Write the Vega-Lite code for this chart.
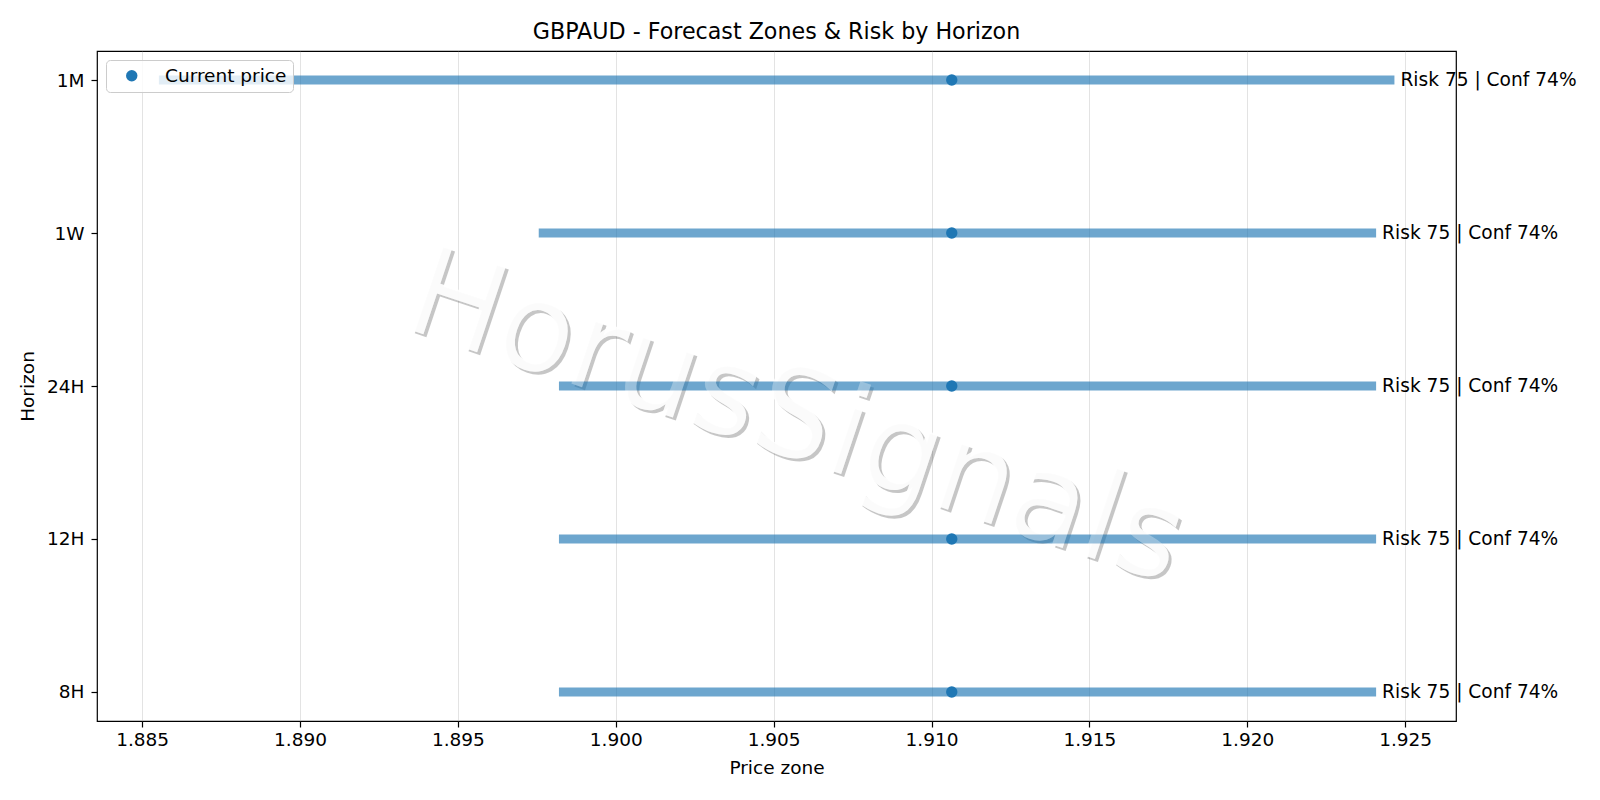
{
  "$schema": "https://vega.github.io/schema/vega-lite/v6.json",
  "width": 1359,
  "height": 670,
  "autosize": {"type": "none"},
  "padding": {"left": 97, "top": 51, "right": 144, "bottom": 79},
  "background": "white",
  "title": {
    "text": "GBPAUD - Forecast Zones & Risk by Horizon",
    "fontSize": 22.2,
    "fontWeight": "normal",
    "font": "DejaVu Sans",
    "color": "#000000",
    "offset": 8
  },
  "config": {
    "view": {"stroke": "#000000", "strokeWidth": 1.2},
    "axis": {
      "labelFont": "DejaVu Sans",
      "labelFontSize": 18.5,
      "labelColor": "#000000",
      "titleFont": "DejaVu Sans",
      "titleFontSize": 18.5,
      "titleFontWeight": "normal",
      "titleColor": "#000000",
      "tickColor": "#000000",
      "tickSize": 6,
      "tickWidth": 1.2,
      "domain": false
    },
    "legend": {
      "orient": "top-left",
      "offset": 9,
      "padding": 6.5,
      "strokeColor": "#cccccc",
      "fillColor": "rgba(255,255,255,0.8)",
      "cornerRadius": 4,
      "labelFont": "DejaVu Sans",
      "labelFontSize": 18.5,
      "labelColor": "#000000",
      "symbolType": "circle",
      "symbolSize": 130,
      "symbolStrokeWidth": 0,
      "symbolOffset": 10,
      "labelOffset": 24
    }
  },
  "datasets": {
    "zones": [
      {"horizon": "1M", "lo": 1.88553, "hi": 1.92466, "price": 1.91064, "label": "Risk 75 | Conf 74%", "series": "Current price"},
      {"horizon": "1W", "lo": 1.89756, "hi": 1.92408, "price": 1.91064, "label": "Risk 75 | Conf 74%", "series": "Current price"},
      {"horizon": "24H", "lo": 1.89820, "hi": 1.92408, "price": 1.91064, "label": "Risk 75 | Conf 74%", "series": "Current price"},
      {"horizon": "12H", "lo": 1.89820, "hi": 1.92408, "price": 1.91064, "label": "Risk 75 | Conf 74%", "series": "Current price"},
      {"horizon": "8H", "lo": 1.89820, "hi": 1.92408, "price": 1.91064, "label": "Risk 75 | Conf 74%", "series": "Current price"}
    ],
    "wm": [{"text": "HorusSignals", "x": 1.90605, "horizon": "24H"}]
  },
  "layer": [
    {
      "data": {"name": "wm"},
      "mark": {"type": "text", "font": "DejaVu Sans", "fontSize": 124, "angle": 18.5, "align": "center", "baseline": "alphabetic", "dx": 3.8, "dy": 74.4, "color": "#000000", "opacity": 0.22},
      "encoding": {
        "x": {
          "field": "x",
          "type": "quantitative",
          "title": "Price zone",
          "scale": {"domain": [1.88357, 1.92661], "nice": false, "zero": false},
          "axis": {
            "values": [1.885, 1.89, 1.895, 1.9, 1.905, 1.91, 1.915, 1.92, 1.925],
            "format": ".3f",
            "grid": true,
            "gridColor": "#b0b0b0",
            "gridOpacity": 0.35,
            "gridWidth": 1,
            "labelPadding": 3,
            "titlePadding": 10
          }
        },
        "y": {
          "field": "horizon",
          "type": "nominal",
          "title": "Horizon",
          "scale": {"type": "point", "domain": ["1M", "1W", "24H", "12H", "8H"], "padding": 0.19},
          "axis": {"grid": false, "labelPadding": 7, "titlePadding": 9}
        },
        "text": {"field": "text"}
      }
    },
    {
      "data": {"name": "wm"},
      "mark": {"type": "text", "font": "DejaVu Sans", "fontSize": 124, "angle": 18.5, "align": "center", "baseline": "alphabetic", "dx": 0, "dy": 72.5, "color": "#ffffff", "opacity": 0.92},
      "encoding": {
        "x": {"field": "x", "type": "quantitative"},
        "y": {"field": "horizon", "type": "nominal"},
        "text": {"field": "text"}
      }
    },
    {
      "data": {"name": "zones"},
      "mark": {"type": "rule", "strokeWidth": 9, "color": "#1f77b4", "opacity": 0.65, "strokeCap": "butt"},
      "encoding": {
        "x": {"field": "lo", "type": "quantitative"},
        "x2": {"field": "hi"},
        "y": {"field": "horizon", "type": "nominal"}
      }
    },
    {
      "data": {"name": "zones"},
      "mark": {"type": "point", "filled": true, "opacity": 1, "size": 130, "shape": "circle"},
      "encoding": {
        "x": {"field": "price", "type": "quantitative"},
        "y": {"field": "horizon", "type": "nominal"},
        "color": {
          "field": "series",
          "type": "nominal",
          "scale": {"range": ["#1f77b4"]},
          "legend": {"title": null}
        }
      }
    },
    {
      "data": {"name": "wm"},
      "mark": {"type": "text", "font": "DejaVu Sans", "fontSize": 124, "angle": 18.5, "align": "center", "baseline": "alphabetic", "dx": 0, "dy": 72.5, "color": "#ffffff", "opacity": 0.3},
      "encoding": {
        "x": {"field": "x", "type": "quantitative"},
        "y": {"field": "horizon", "type": "nominal"},
        "text": {"field": "text"}
      }
    },
    {
      "data": {"name": "zones"},
      "mark": {"type": "text", "font": "DejaVu Sans", "fontSize": 18.6, "align": "left", "baseline": "middle", "dx": 6, "color": "#000000"},
      "encoding": {
        "x": {"field": "hi", "type": "quantitative"},
        "y": {"field": "horizon", "type": "nominal"},
        "text": {"field": "label"}
      }
    }
  ]
}
